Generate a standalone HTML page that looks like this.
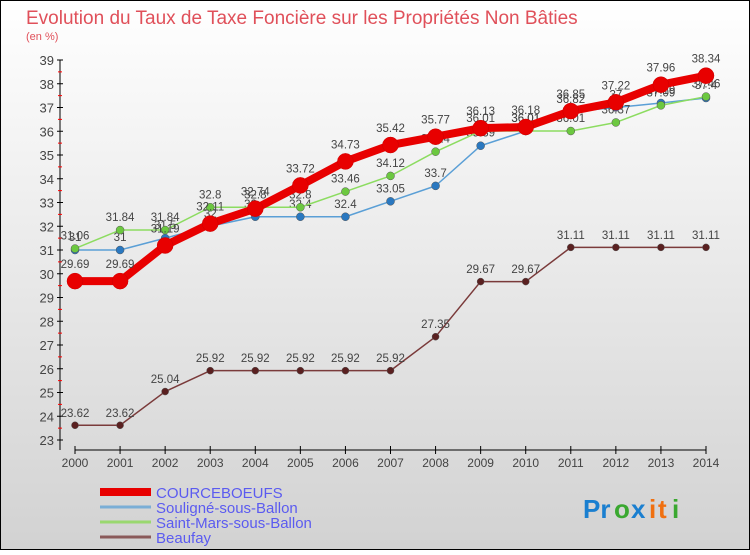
<!DOCTYPE html>
<html><head><meta charset="utf-8"><style>
body{margin:0;width:750px;height:550px;overflow:hidden;font-family:"Liberation Sans",sans-serif}
svg text{font-family:"Liberation Sans",sans-serif}
</style></head><body>
<svg id="chart" width="750" height="550" viewBox="0 0 750 550" xmlns="http://www.w3.org/2000/svg">
<defs><linearGradient id="bg" x1="0" y1="0" x2="0" y2="1"><stop offset="0" stop-color="#ffffff"/><stop offset="1" stop-color="#d2d2d2"/></linearGradient></defs>
<rect x="0.5" y="0.5" width="749" height="549" fill="url(#bg)" stroke="#000"/>
<text x="26" y="24" font-size="19" fill="#e0505a">Evolution du Taux de Taxe Foncière sur les Propriétés Non Bâties</text>
<text x="26" y="40" font-size="11" fill="#e0505a">(en %)</text>
<g id="axes"></g>
<g id="series"></g>
<g id="legend"></g>
<g font-size="26" font-weight="bold">
<text x="583" y="518" fill="#1a7fd0">Pr</text><text x="614" y="518" fill="#3aa830">o</text><text x="631" y="518" fill="#1a7fd0">x</text><text x="649" y="518" fill="#f07010">i</text><text x="658" y="518" fill="#f07010">t</text><text x="672" y="518" fill="#3aa830">i</text>
</g>
</svg>
<script>
const years=[2000,2001,2002,2003,2004,2005,2006,2007,2008,2009,2010,2011,2012,2013,2014];
const courceboeufs=[29.69,29.69,31.19,32.11,32.74,33.72,34.73,35.42,35.77,36.13,36.18,36.85,37.22,37.96,38.34];
const souligne=[31,31,31.5,32,32.4,32.4,32.4,33.05,33.7,35.39,36.01,36.82,37,37.19,37.4];
const saintMars=[31.06,31.84,31.84,32.8,32.8,32.8,33.46,34.12,35.14,36.01,36.01,36.01,36.37,37.09,37.46];
const beaufay=[23.62,23.62,25.04,25.92,25.92,25.92,25.92,25.92,27.35,29.67,29.67,31.11,31.11,31.11,31.11];
const yTicks=[23,24,25,26,27,28,29,30,31,32,33,34,35,36,37,38,39];
const seriesNames=["COURCEBOEUFS","Souligné-sous-Ballon","Saint-Mars-sous-Ballon","Beaufay"];
const NS="http://www.w3.org/2000/svg";
const x=i=>75+(706-75)*i/(years.length-1);
const y=v=>440-(v-23)*(380/16);
function mk(tag,attrs,parent){const e=document.createElementNS(NS,tag);for(const k in attrs)e.setAttribute(k,attrs[k]);parent.appendChild(e);return e;}
const ax=document.getElementById('axes');
let l=mk('line',{x1:60,y1:y(39),x2:60,y2:450,stroke:'#000'},ax);


l=mk('line',{x1:75,y1:450,x2:706,y2:450,stroke:'#000'},ax);


yTicks.forEach(t=>{
 mk('line',{x1:57,x2:63,y1:y(t),y2:y(t),stroke:'#000'},ax);
 if(t<39)mk('line',{x1:58,x2:62,y1:y(t+0.5),y2:y(t+0.5),stroke:'#f00'},ax);
 const tx=mk('text',{x:54,y:y(t)+5,'text-anchor':'end','font-size':13,fill:'#444'},ax);
 tx.textContent=t;
 
 
});
years.forEach((yr,i)=>{
 mk('line',{x1:x(i),x2:x(i),y1:446,y2:454,stroke:'#000'},ax);
 const tx=mk('text',{x:x(i),y:467,'text-anchor':'middle','font-size':12,fill:'#444'},ax);
 tx.textContent=yr;
 
 
});
const sg=document.getElementById('series');
const defs=[
 {d:beaufay,c:'#7a3a3a',w:1.5,r:3.5,fill:'#5a2020',name:'beaufay'},
 {d:souligne,c:'#5a9fd6',w:1.5,r:4,fill:'#2a78c0',name:'souligne'},
 {d:saintMars,c:'#8cdc60',w:1.5,r:4,fill:'#6cc840',name:'saint-mars'},
 {d:courceboeufs,c:'#e80000',w:8,r:8,fill:'#e80000',name:'courceboeufs'}
];
defs.forEach(s=>{
 const g=mk('g',{},sg);
 
 
 const p=mk('polyline',{points:s.d.map((v,i)=>x(i)+','+y(v)).join(' '),fill:'none',stroke:s.c,'stroke-width':s.w,'stroke-linejoin':'round'},g);
 
 
 s.d.forEach((v,i)=>{
  const c=mk('circle',{cx:x(i),cy:y(v),r:s.r,fill:s.fill,stroke:s.name==='courceboeufs'?'#c00':'#555','stroke-width':0.5},g);
  
  
  const t=mk('text',{x:x(i),y:y(v)-(s.r+5),'text-anchor':'middle','font-size':11.5,fill:'#444'},g);
  t.textContent=v;
  
  
 });
});
const lg=document.getElementById('legend');
const lcol=['#e80000','#7aaed6','#9ad870','#8a5a5a'];
const lw=[8,3,3,3];
seriesNames.forEach((n,i)=>{
 const yy=492+i*15;
 const ln=mk('line',{x1:100,x2:151,y1:yy,y2:yy,stroke:lcol[i],'stroke-width':lw[i]},lg);
 
 
 const t=mk('text',{x:156,y:yy+6,'font-size':15,fill:'#5b5bf0'},lg);
 t.textContent=n;
 
 
});
</script>
</body></html>
